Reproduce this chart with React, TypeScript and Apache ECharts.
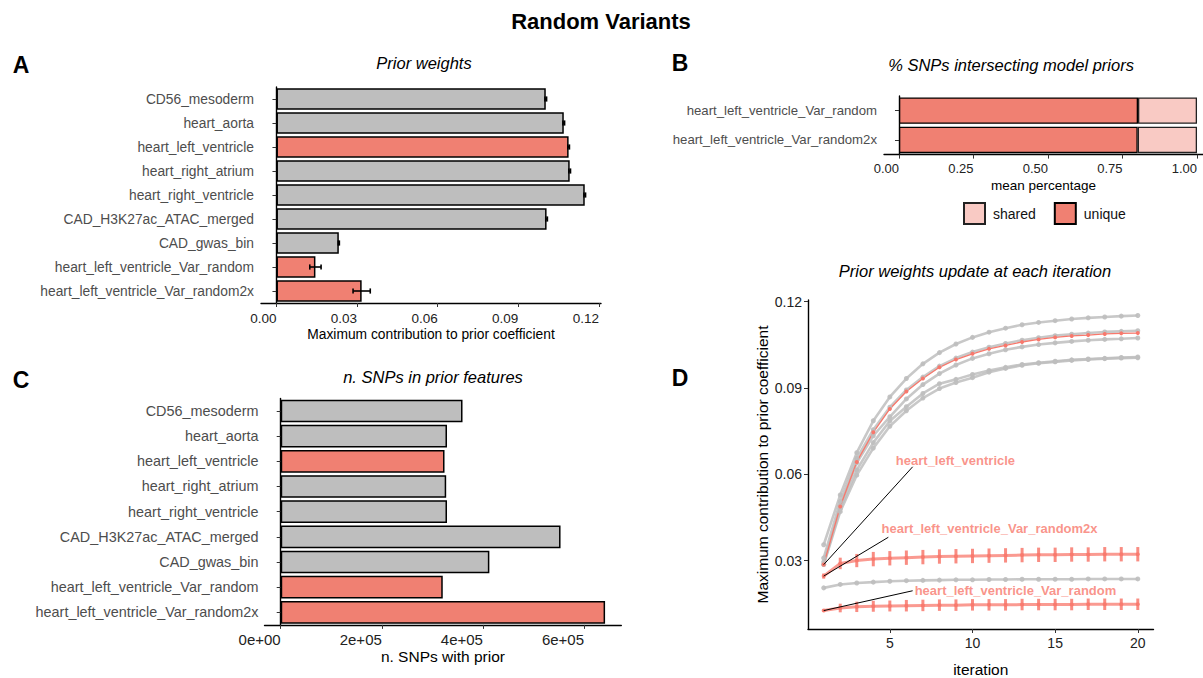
import React, { useEffect, useRef } from 'react';
import * as echarts from 'echarts';

// ---------- data ----------
const features = [
  'CD56_mesoderm',
  'heart_aorta',
  'heart_left_ventricle',
  'heart_right_atrium',
  'heart_right_ventricle',
  'CAD_H3K27ac_ATAC_merged',
  'CAD_gwas_bin',
  'heart_left_ventricle_Var_random',
  'heart_left_ventricle_Var_random2x',
];
const highlighted = ['heart_left_ventricle', 'heart_left_ventricle_Var_random', 'heart_left_ventricle_Var_random2x'];

const priorWeight = [0.1002, 0.1069, 0.1087, 0.1091, 0.1147, 0.1005, 0.0232, 0.0145, 0.0317];
const priorWeightErr = [0.0003, 0.0003, 0.0003, 0.0003, 0.0003, 0.0003, 0.0002, 0.0021, 0.0032];
const priorTicks = [0, 0.03, 0.06, 0.09, 0.12];

const nSnps = [359600, 328900, 324000, 327300, 328900, 553500, 412700, 320500, 641600];
const snpTicks = [0, 200000, 400000, 600000];
const snpTickLabels = ['0e+00', '2e+05', '4e+05', '6e+05'];

const randomSets = ['heart_left_ventricle_Var_random', 'heart_left_ventricle_Var_random2x'];
const uniqueShare = [0.802, 0.801];
const sharedShare = [0.198, 0.199];
const pctTicks = [0, 0.25, 0.5, 0.75, 1.0];

const iterations = [1, 2, 3, 4, 5, 6, 7, 8, 9, 10, 11, 12, 13, 14, 15, 16, 17, 18, 19, 20];
const iterTicks = [5, 10, 15, 20];
const weightTicks = [0.03, 0.06, 0.09, 0.12];
const trajCD56 = [0.0286, 0.0470, 0.0597, 0.0691, 0.0767, 0.0821, 0.0865, 0.0898, 0.0919, 0.0936, 0.0955, 0.0968, 0.0979, 0.0986, 0.0991, 0.0996, 0.0999, 0.1002, 0.1004, 0.1005];
const trajAorta = [0.0286, 0.0490, 0.0640, 0.0734, 0.0800, 0.0862, 0.0912, 0.0950, 0.0980, 0.1003, 0.1019, 0.1033, 0.1043, 0.1051, 0.1057, 0.1062, 0.1066, 0.1069, 0.1071, 0.1074];
const trajHLV = [0.0286, 0.0488, 0.0643, 0.0746, 0.0827, 0.0888, 0.0933, 0.0972, 0.0999, 0.1019, 0.1036, 0.1048, 0.1060, 0.1069, 0.1076, 0.1081, 0.1084, 0.1088, 0.1090, 0.1091];
const trajHRA = [0.0309, 0.0505, 0.0655, 0.0755, 0.0833, 0.0893, 0.0938, 0.0976, 0.1004, 0.1025, 0.1042, 0.1055, 0.1066, 0.1075, 0.1082, 0.1087, 0.1091, 0.1095, 0.1097, 0.1099];
const trajHRV = [0.0355, 0.0528, 0.0675, 0.0786, 0.0869, 0.0933, 0.0984, 0.1023, 0.1053, 0.1076, 0.1094, 0.1108, 0.1120, 0.1128, 0.1134, 0.1140, 0.1144, 0.1147, 0.1150, 0.1152];
const trajCADH = [0.0295, 0.0480, 0.0615, 0.0710, 0.0785, 0.0835, 0.0881, 0.0915, 0.0930, 0.0947, 0.0961, 0.0972, 0.0982, 0.0988, 0.0993, 0.0998, 0.1001, 0.1003, 0.1006, 0.1008];
const trajGwas = [0.0205, 0.0217, 0.0222, 0.0225, 0.0228, 0.0230, 0.0231, 0.0232, 0.0233, 0.0233, 0.0234, 0.0234, 0.0235, 0.0235, 0.0235, 0.0235, 0.0236, 0.0236, 0.0236, 0.0236];
const trajRandom = [0.0126, 0.0135, 0.0139, 0.0141, 0.0142, 0.0143, 0.0144, 0.0145, 0.0145, 0.0146, 0.0146, 0.0146, 0.0147, 0.0147, 0.0147, 0.0147, 0.0148, 0.0148, 0.0148, 0.0148];
const errRandom = [0.0005, 0.0015, 0.0018, 0.0019, 0.0019, 0.0020, 0.0020, 0.0020, 0.0020, 0.0020, 0.0020, 0.0020, 0.0020, 0.0020, 0.0020, 0.0020, 0.0020, 0.0020, 0.0020, 0.0020];
const trajRandom2x = [0.0246, 0.0290, 0.0300, 0.0305, 0.0308, 0.0310, 0.0312, 0.0314, 0.0315, 0.0316, 0.0317, 0.0318, 0.0319, 0.0320, 0.0320, 0.0321, 0.0321, 0.0322, 0.0322, 0.0322];
const errRandom2x = [0.0009, 0.0020, 0.0023, 0.0025, 0.0025, 0.0025, 0.0025, 0.0025, 0.0025, 0.0025, 0.0025, 0.0025, 0.0025, 0.0025, 0.0025, 0.0025, 0.0025, 0.0025, 0.0025, 0.0025];

const grayTrajectories = [
  { name: 'CD56_mesoderm', values: trajCD56 },
  { name: 'heart_aorta', values: trajAorta },
  { name: 'heart_right_atrium', values: trajHRA },
  { name: 'heart_right_ventricle', values: trajHRV },
  { name: 'CAD_H3K27ac_ATAC_merged', values: trajCADH },
  { name: 'CAD_gwas_bin', values: trajGwas },
];

// annotation (label text anchor, leader line end) in data units of panel D
const annotations = [
  { text: 'heart_left_ventricle', start: trajHLV[0], label: [8.97, 0.0647], end: [6.38, 0.0626] },
  { text: 'heart_left_ventricle_Var_random2x', start: trajRandom2x[0], label: [11.03, 0.041], end: [4.91, 0.0381] },
  { text: 'heart_left_ventricle_Var_random', start: trajRandom[0], label: [12.6, 0.0197], end: [6.38, 0.0195] },
];

// ---------- styles ----------
const FONT = 'Liberation Sans, Arial, Helvetica, sans-serif';
const RED = '#F08072';
const RED_LINE = '#F8786C';
const GRAY = '#BEBEBE';
const PINK = '#F9CAC4';

const axisLine = { show: true, lineStyle: { color: '#000', width: 1.4 } };
const axisTick = { show: true, length: 4, lineStyle: { color: '#333', width: 1 } };

export default function App() {
  const ref = useRef<HTMLDivElement>(null);

  useEffect(() => {
    if (!ref.current) return;
    const chart = echarts.init(ref.current, undefined, { renderer: 'svg' });

    const barColor = (name: string) => (highlighted.includes(name) ? RED : GRAY);

    const option: any = {
      animation: false,
      backgroundColor: '#fff',
      textStyle: { fontFamily: FONT },
      grid: [
        { left: 261, top: 87, width: 340, height: 216 },
        { left: 884, top: 96, width: 319, height: 58.6 },
        { left: 264.5, top: 398.4, width: 356.8, height: 226.5 },
        { left: 808, top: 300, width: 345.5, height: 331.3 },
      ],
      xAxis: [
        {
          gridIndex: 0, type: 'value', min: -0.00575, max: 0.12075,
          axisLine, axisTick: { ...axisTick, customValues: priorTicks },
          splitLine: { show: false },
          axisLabel: {
            customValues: priorTicks, align: 'right', margin: 8, fontSize: 13.5, color: '#222', fontFamily: FONT,
            formatter: (v: number) => v.toFixed(2),
          },
          name: 'Maximum contribution to prior coefficient', nameLocation: 'middle', nameGap: 24,
          nameTextStyle: { fontSize: 13.8, color: '#000', fontFamily: FONT },
        },
        {
          gridIndex: 1, type: 'value', min: -0.0503, max: 1.0201,
          axisLine, axisTick: { ...axisTick, customValues: pctTicks },
          splitLine: { show: false },
          axisLabel: {
            customValues: pctTicks, align: 'right', margin: 7, fontSize: 13, color: '#222', fontFamily: FONT,
            formatter: (v: number) => v.toFixed(2),
          },
          name: 'mean percentage', nameLocation: 'middle', nameGap: 24,
          nameTextStyle: { fontSize: 13.5, color: '#000', fontFamily: FONT },
        },
        {
          gridIndex: 2, type: 'value', min: -32080, max: 673680,
          axisLine, axisTick: { ...axisTick, customValues: snpTicks },
          splitLine: { show: false },
          axisLabel: {
            customValues: snpTicks, align: 'right', margin: 7, fontSize: 15, color: '#222', fontFamily: FONT,
            formatter: (v: number) => snpTickLabels[snpTicks.indexOf(v)] ?? '',
          },
          name: 'n. SNPs with prior', nameLocation: 'middle', nameGap: 24,
          nameTextStyle: { fontSize: 15.5, color: '#000', fontFamily: FONT },
        },
        {
          gridIndex: 3, type: 'value', min: 0.05, max: 20.95,
          axisLine, axisTick: { ...axisTick, customValues: iterTicks },
          splitLine: { show: false },
          axisLabel: {
            customValues: iterTicks, margin: 7, fontSize: 14, color: '#222', fontFamily: FONT,
          },
          name: 'iteration', nameLocation: 'middle', nameGap: 32,
          nameTextStyle: { fontSize: 15.5, color: '#000', fontFamily: FONT },
        },
      ],
      yAxis: [
        {
          gridIndex: 0, type: 'category', data: features, inverse: true,
          axisLine, axisTick: { ...axisTick, alignWithLabel: true },
          axisLabel: { fontSize: 13.8, color: '#4d4d4d', margin: 7, fontFamily: FONT },
        },
        {
          gridIndex: 1, type: 'category', data: randomSets, inverse: true,
          axisLine, axisTick: { ...axisTick, alignWithLabel: true },
          axisLabel: { fontSize: 13.2, color: '#4d4d4d', margin: 7, fontFamily: FONT },
        },
        {
          gridIndex: 2, type: 'category', data: features, inverse: true,
          axisLine, axisTick: { ...axisTick, alignWithLabel: true },
          axisLabel: { fontSize: 14.4, color: '#4d4d4d', margin: 6, fontFamily: FONT },
        },
        {
          gridIndex: 3, type: 'value', min: 0.0062, max: 0.1206,
          axisLine, axisTick: { ...axisTick, customValues: weightTicks },
          splitLine: { show: false },
          axisLabel: {
            customValues: weightTicks, margin: 6, fontSize: 14, color: '#222', fontFamily: FONT,
            formatter: (v: number) => v.toFixed(2),
          },
          name: 'Maximum contribution to prior coefficient', nameLocation: 'middle', nameGap: 38,
          nameTextStyle: { fontSize: 15.5, color: '#000', fontFamily: FONT },
        },
      ],
      legend: {
        data: ['shared', 'unique'], left: 963, top: 202, orient: 'horizontal', padding: 0,
        icon: 'rect', itemWidth: 21, itemHeight: 21, itemGap: 18,
        textStyle: { fontSize: 14, color: '#111', fontFamily: FONT, padding: [0, 0, 0, 3] },
        selectedMode: false,
      },
      series: [] as any[],
      graphic: [
        { type: 'text', x: 601, y: 21, style: { text: 'Random Variants', font: `bold 22px ${FONT}`, fill: '#000', align: 'center', verticalAlign: 'middle' } },
        { type: 'text', x: 21, y: 65, style: { text: 'A', font: `bold 23px ${FONT}`, fill: '#000', align: 'center', verticalAlign: 'middle' } },
        { type: 'text', x: 680, y: 63, style: { text: 'B', font: `bold 23px ${FONT}`, fill: '#000', align: 'center', verticalAlign: 'middle' } },
        { type: 'text', x: 21, y: 380, style: { text: 'C', font: `bold 23px ${FONT}`, fill: '#000', align: 'center', verticalAlign: 'middle' } },
        { type: 'text', x: 680, y: 378, style: { text: 'D', font: `bold 23px ${FONT}`, fill: '#000', align: 'center', verticalAlign: 'middle' } },
        { type: 'text', x: 424, y: 63, style: { text: 'Prior weights', font: `italic 16.5px ${FONT}`, fill: '#000', align: 'center', verticalAlign: 'middle' } },
        { type: 'text', x: 1011, y: 65, style: { text: '% SNPs intersecting model priors', font: `italic 16.5px ${FONT}`, fill: '#000', align: 'center', verticalAlign: 'middle' } },
        { type: 'text', x: 433, y: 377, style: { text: 'n. SNPs in prior features', font: `italic 16.5px ${FONT}`, fill: '#000', align: 'center', verticalAlign: 'middle' } },
        { type: 'text', x: 975, y: 271, style: { text: 'Prior weights update at each iteration', font: `italic 16.5px ${FONT}`, fill: '#000', align: 'center', verticalAlign: 'middle' } },
      ],
    };

    // Panel A bars
    option.series.push({
      type: 'bar', xAxisIndex: 0, yAxisIndex: 0, barWidth: '90%', silent: true,
      data: features.map((f, i) => ({ value: priorWeight[i], itemStyle: { color: barColor(f), borderColor: '#000', borderWidth: 1.5 } })),
    });
    // Panel A error bars
    option.series.push({
      type: 'custom', xAxisIndex: 0, yAxisIndex: 0, silent: true, z: 5,
      encode: { x: 0, y: 1 },
      data: features.map((f, i) => [priorWeight[i], i, priorWeightErr[i]]),
      renderItem: (params: any, api: any) => {
        const v = api.value(0), idx = api.value(1), e = api.value(2);
        const p1 = api.coord([v - e, idx]);
        const p2 = api.coord([v + e, idx]);
        const h = 2.6;
        const st = { stroke: '#000', lineWidth: 1.6 };
        return {
          type: 'group',
          children: [
            { type: 'line', shape: { x1: p1[0], y1: p1[1], x2: p2[0], y2: p2[1] }, style: st },
            { type: 'line', shape: { x1: p1[0], y1: p1[1] - h, x2: p1[0], y2: p1[1] + h }, style: st },
            { type: 'line', shape: { x1: p2[0], y1: p2[1] - h, x2: p2[0], y2: p2[1] + h }, style: st },
          ],
        };
      },
    });

    // Panel B stacked bars
    option.series.push({
      name: 'unique', type: 'bar', stack: 'pct', xAxisIndex: 1, yAxisIndex: 1, barWidth: '90%', silent: true,
      itemStyle: { color: RED, borderColor: '#000', borderWidth: 1.3 },
      data: uniqueShare,
    });
    option.series.push({
      name: 'shared', type: 'bar', stack: 'pct', xAxisIndex: 1, yAxisIndex: 1, barWidth: '90%', silent: true,
      itemStyle: { color: PINK, borderColor: '#222', borderWidth: 1.3 },
      data: sharedShare,
    });

    // Panel C bars
    option.series.push({
      type: 'bar', xAxisIndex: 2, yAxisIndex: 2, barWidth: '90%', silent: true,
      data: features.map((f, i) => ({ value: nSnps[i], itemStyle: { color: barColor(f), borderColor: '#000', borderWidth: 1.5 } })),
    });

    // Panel D gray lines
    grayTrajectories.forEach((t) => {
      option.series.push({
        name: t.name, type: 'line', xAxisIndex: 3, yAxisIndex: 3, silent: true,
        data: iterations.map((it, i) => [it, t.values[i]]),
        symbol: 'circle', symbolSize: 5, showSymbol: true,
        lineStyle: { color: GRAY, width: 2.6, opacity: 0.85 },
        itemStyle: { color: GRAY, opacity: 0.9 },
      });
    });
    // Panel D red lines
    option.series.push({
      name: 'heart_left_ventricle', type: 'line', xAxisIndex: 3, yAxisIndex: 3, silent: true,
      data: iterations.map((it, i) => [it, trajHLV[i]]),
      symbol: 'circle', symbolSize: 4,
      lineStyle: { color: RED_LINE, width: 1.3 },
      itemStyle: { color: RED_LINE },
    });
    [
      { name: 'heart_left_ventricle_Var_random2x', values: trajRandom2x, err: errRandom2x },
      { name: 'heart_left_ventricle_Var_random', values: trajRandom, err: errRandom },
    ].forEach((t) => {
      option.series.push({
        name: t.name, type: 'line', xAxisIndex: 3, yAxisIndex: 3, silent: true,
        data: iterations.map((it, i) => [it, t.values[i]]),
        symbol: 'circle', symbolSize: 4,
        lineStyle: { color: RED_LINE, width: 3, opacity: 0.75 },
        itemStyle: { color: RED_LINE, opacity: 0.8 },
      });
      option.series.push({
        type: 'custom', xAxisIndex: 3, yAxisIndex: 3, silent: true, z: 4,
        encode: { x: 0, y: 1 },
        data: iterations.map((it, i) => [it, t.values[i], t.err[i]]),
        renderItem: (params: any, api: any) => {
          const x = api.value(0), y = api.value(1), e = api.value(2);
          const p1 = api.coord([x, y - e]);
          const p2 = api.coord([x, y + e]);
          return {
            type: 'line',
            shape: { x1: p1[0], y1: p1[1], x2: p2[0], y2: p2[1] },
            style: { stroke: RED_LINE, lineWidth: 3, opacity: 0.85 },
          };
        },
      });
    });

    // Panel D annotations: leader lines and labels
    option.series.push({
      type: 'lines', coordinateSystem: 'cartesian2d', xAxisIndex: 3, yAxisIndex: 3, silent: true, z: 6,
      lineStyle: { color: '#000', width: 1, opacity: 1 },
      data: annotations.map((a) => ({ coords: [[iterations[0], a.start], a.end] })),
    });
    option.series.push({
      type: 'scatter', xAxisIndex: 3, yAxisIndex: 3, silent: true, symbolSize: 0, z: 7,
      data: annotations.map((a) => ({ name: a.text, value: a.label })),
      label: {
        show: true, position: 'inside', formatter: (p: any) => p.name,
        fontSize: 13, fontWeight: 'bold', color: RED_LINE, fontFamily: FONT,
      },
    });

    chart.setOption(option);
    return () => chart.dispose();
  }, []);

  return (
    <div
      ref={ref}
      style={{ position: 'fixed', left: 0, top: 0, width: 1203, height: 678, background: '#fff' }}
    />
  );
}
